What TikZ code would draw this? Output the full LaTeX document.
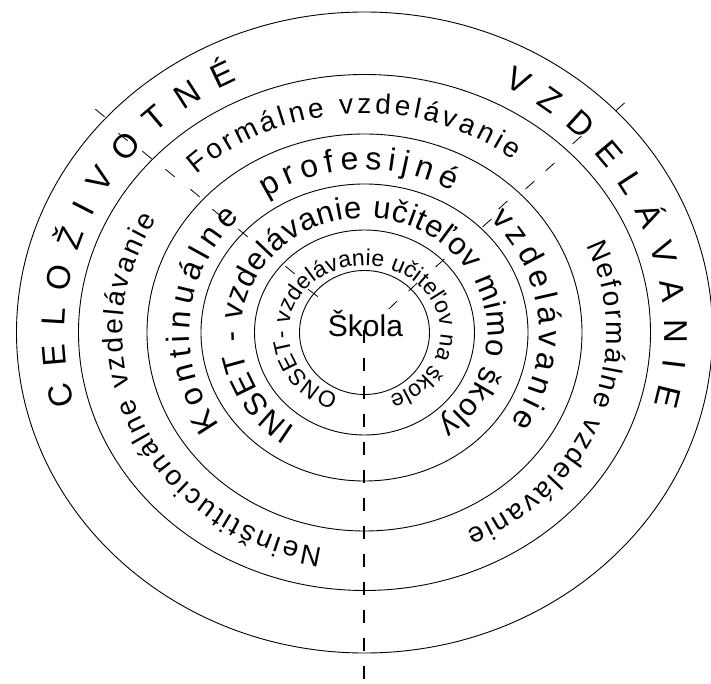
\documentclass[tikz,border=0pt]{standalone}
\usepackage{fontspec}
\setmainfont{Liberation Sans}
\usetikzlibrary{decorations.text, calc}

\newcommand{\outerfont}{\fontsize{33}{38}\selectfont}
\newcommand{\formfont}{\fontsize{28}{33}\selectfont}
\newcommand{\kontfont}{\fontsize{32}{38}\selectfont}
\newcommand{\insetfont}{\fontsize{31}{37}\selectfont}
\newcommand{\onsetfont}{\fontsize{23}{28}\selectfont}
\newcommand{\skolafont}{\fontsize{30}{35}\selectfont}

\begin{document}
\begin{tikzpicture}[
    x=1pt, y=1pt,
    ring/.style={draw, line width=0.9pt},
    axis/.style={line width=1.5pt, dash pattern=on 13pt off 15pt},
    tickmark/.style={line width=0.8pt},
    arctext/.style={decorate, decoration={text along path, text align={fit to path}, text={#1}}},
]
\useasboundingbox (-364.5,-351.5) rectangle (346.5,332.5);

\coordinate (c) at (0,0);
\coordinate (axistop) at (-0.5,2.5);
\coordinate (axisend) at (-0.5,-351.5);

% Rings
\foreach \rx/\ry in {65/62, 110/102.5, 163.5/148.5, 217.5/198.5, 286/258, 348/320.5}
  \draw[ring] (c) ellipse [x radius=\rx, y radius=\ry];

% Outer ring
\path[arctext={|\outerfont|CELOŽIVOTNÉ}] (c) ++(195:300 and 278.5) arc[start angle=195, end angle=115, x radius=300, y radius=278.5];
\path[arctext={|\outerfont|VZDELÁVANIE}] (c) ++(62.5:300 and 278.5) arc[start angle=62.5, end angle=-15, x radius=300, y radius=278.5];

% Formal / non-formal ring
\path[arctext={|\formfont|Formálne vzdelávanie}] (c) ++(134:242 and 219) arc[start angle=134, end angle=52, x radius=242, y radius=219];
\path[arctext={|\formfont|Neinštitucionálne vzdelávanie}] (c) ++(260:242 and 219) arc[start angle=260, end angle=149, x radius=242, y radius=219];
\path[arctext={|\formfont|Neformálne vzdelávanie}] (c) ++(23.5:242 and 219) arc[start angle=23.5, end angle=-65, x radius=242, y radius=219];

% Continuing education ring
\path[arctext={|\kontfont|Kontinuálne}] (c) ++(214.5:175 and 163) arc[start angle=214.5, end angle=135.5, x radius=175, y radius=163];
\path[arctext={|\kontfont|profesijné}] (c) ++(124:175 and 163) arc[start angle=124, end angle=60, x radius=175, y radius=163];
\path[arctext={|\kontfont|vzdelávanie}] (c) ++(44:175 and 163) arc[start angle=44, end angle=-33.5, x radius=175, y radius=163];

% INSET ring
\path[arctext={|\insetfont|INSET - vzdelávanie učiteľov mimo školy}] (c) ++(236:123 and 114.5) arc[start angle=236, end angle=-53, x radius=123, y radius=114.5];

% ONSET ring
\path[arctext={|\onsetfont|ONSET- vzdelávanie učiteľov na škole}] (c) ++(250:76 and 67) arc[start angle=250, end angle=-71, x radius=76, y radius=67];

% Centre
\node[font=\skolafont, anchor=base, inner sep=0pt] (skola) at (1,-4.5) {Škola};

% Axis
\draw[axis] (axistop) -- (axisend);

% Ticks
\foreach \px/\py in {-264.5/219.5, -241.5/195.5, -217.5/177.5, -194.5/159.5, -169.5/139.5, -147.5/119.5, -121.5/99.5, -74.5/62.5, -51.5/39.5,
  255.5/225.5, 212.5/192.5, 185.5/165.5, 165.5/147.5, 138.5/127.5, 122.5/109.5, 75.5/69.5, 48.5/45.5, 28.5/27.5}
  \draw[tickmark] ($(\px,\py)!6pt!(c)$) -- ($(\px,\py)!-6pt!(c)$);

\end{tikzpicture}
\end{document}
